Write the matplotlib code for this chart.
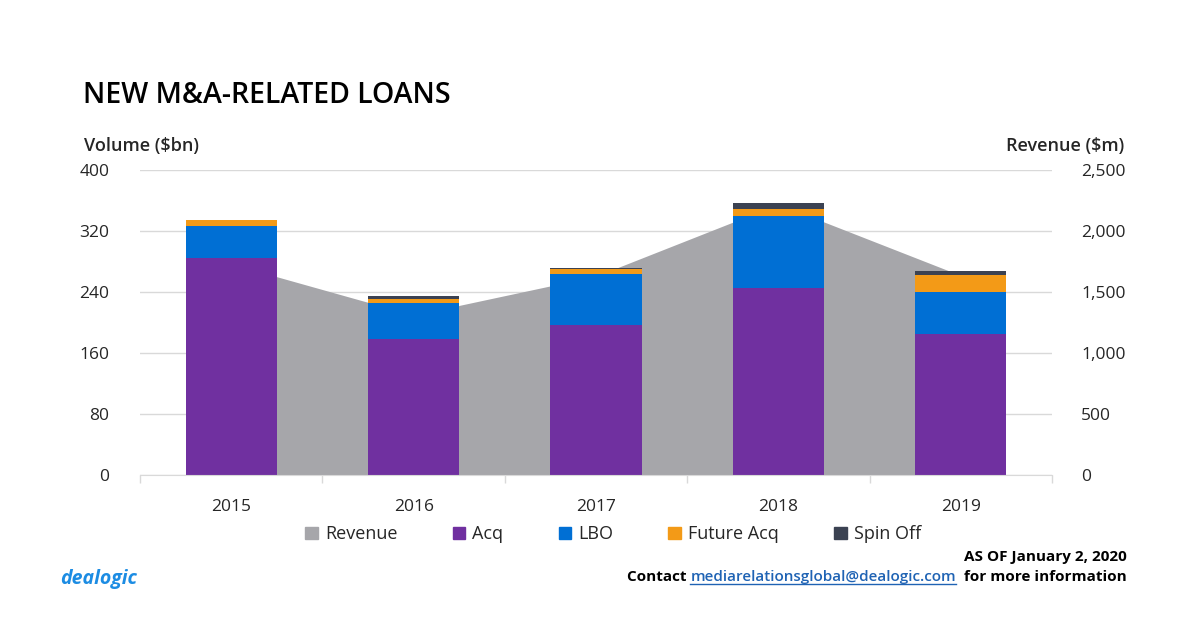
import numpy as np
import matplotlib.pyplot as plt
from matplotlib.patches import Patch
from matplotlib.lines import Line2D

plt.rcParams['font.family'] = ['Open Sans', 'DejaVu Sans']

years = ['2015', '2016', '2017', '2018', '2019']
acq = [284.6, 178.4, 196.7, 245.7, 184.9]
lbo = [42.0, 46.8, 66.9, 94.0, 55.1]
future_acq = [7.8, 5.6, 6.6, 9.2, 22.3]
spin_off = [0.0, 4.0, 1.3, 7.8, 5.6]
revenue = [1730, 1310, 1630, 2220, 1635]

left_ticks = [0, 80, 160, 240, 320, 400]
right_ticks = [0, 500, 1000, 1500, 2000, 2500]

c_acq = '#7030A0'
c_lbo = '#006FD4'
c_fut = '#F39A17'
c_spin = '#3B4252'
c_rev = '#A6A6AA'
txt = '#262626'


def main():
    fig = plt.figure(figsize=(12, 6.24), dpi=100)
    ax = fig.add_axes([0.1167, 0.2388, 0.76, 0.4888])
    ax2 = ax.twinx()
    # bars above the revenue area
    ax.set_zorder(ax2.get_zorder() + 1)
    ax.patch.set_visible(False)

    x = np.arange(len(years))

    ax2.fill_between(x, 0, revenue, color=c_rev, lw=0, zorder=2)
    ax2.set_ylim(0, 2500)
    ax2.set_yticks(right_ticks)
    ax2.set_yticklabels(['{:,}'.format(v) for v in right_ticks])
    ax2.grid(axis='y', color='#D9D9D9', lw=1)
    ax2.set_axisbelow(True)

    w = 0.5
    bottom = np.zeros(len(years))
    for vals, col in [(acq, c_acq), (lbo, c_lbo), (future_acq, c_fut), (spin_off, c_spin)]:
        ax.bar(x, vals, w, bottom=bottom, color=col, lw=0)
        bottom += np.array(vals)

    ax.set_ylim(0, 400)
    ax.set_xlim(-0.5, len(years) - 0.5)
    ax.set_yticks(left_ticks)
    ax.set_xticks(x)
    ax.set_xticklabels(years)
    ax.set_xticks(np.arange(-0.5, len(years)), minor=True)

    for a in (ax, ax2):
        for s in a.spines.values():
            s.set_visible(False)
    ax.spines['bottom'].set_visible(True)
    ax.spines['bottom'].set_color('#D9D9D9')

    ax.tick_params(axis='y', length=0, pad=22, labelsize=12.5, labelcolor=txt)
    ax2.tick_params(axis='y', length=0, pad=21, labelsize=12.5, labelcolor=txt)
    ax.tick_params(axis='x', which='major', length=0, pad=17, labelsize=12.5, labelcolor=txt)
    ax.tick_params(axis='x', which='minor', length=6, color='#D9D9D9', width=1)

    fig.text(0.069, 0.847, 'NEW M&A-RELATED LOANS', fontsize=20.5, fontweight='semibold',
             color='black', va='center')
    fig.text(0.07, 0.766, 'Volume ($bn)', fontsize=13, fontweight='semibold', color=txt, va='center')
    fig.text(0.937, 0.766, 'Revenue ($m)', fontsize=13, fontweight='semibold', color=txt,
             va='center', ha='right')

    handles = [Patch(color=c_rev), Patch(color=c_acq), Patch(color=c_lbo),
               Patch(color=c_fut), Patch(color=c_spin)]
    labels = ['Revenue', 'Acq', 'LBO', 'Future Acq', 'Spin Off']
    fig.legend(handles, labels, loc='center', bbox_to_anchor=(0.511, 0.144), ncol=5,
               frameon=False, fontsize=13, handlelength=0.7, handleheight=0.7,
               handletextpad=0.4, columnspacing=3.05, labelcolor=txt)

    # footer
    fig.text(0.939, 0.107, 'AS OF January 2, 2020', fontsize=11, fontweight='bold',
             ha='right', va='center', color='black')
    fig.canvas.draw()
    r = fig.canvas.get_renderer()
    t3 = fig.text(0.939, 0.075, '  for more information', fontsize=11, fontweight='bold',
                  ha='right', va='center', color='black')
    bb = t3.get_window_extent(r)
    t2 = fig.text(bb.x0 / 1200, 0.075, 'mediarelationsglobal@dealogic.com', fontsize=11,
                  fontweight='semibold', ha='right', va='center', color='#1F63B4')
    bb2 = t2.get_window_extent(r)
    fig.add_artist(Line2D([bb2.x0 / 1200, bb2.x1 / 1200], [bb2.y0 / 624 + 0.001] * 2,
                          color='#1F63B4', lw=1))
    fig.text(bb2.x0 / 1200, 0.075, 'Contact ', fontsize=11, fontweight='bold',
             ha='right', va='center', color='black')
    fig.text(0.05, 0.072, 'dealogic', fontsize=14, fontweight='bold', style='italic',
             color='#1C8CE3', va='center')

    fig.savefig('out.png', dpi=100)


if __name__ == '__main__':
    main()
